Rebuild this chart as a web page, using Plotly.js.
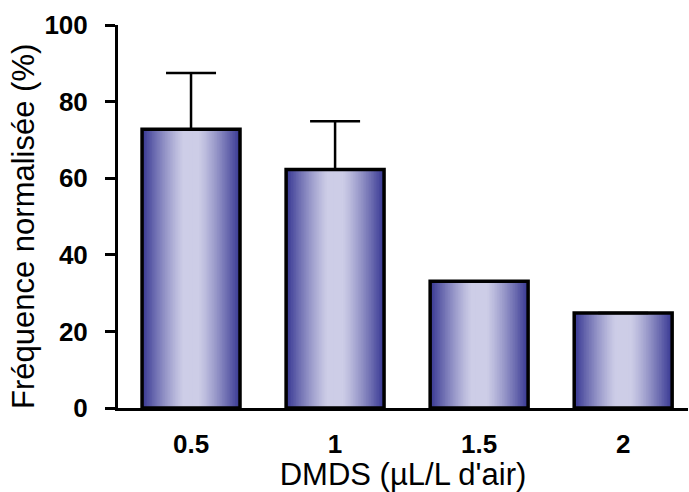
<!DOCTYPE html>
<html>
<head>
<meta charset="utf-8">
<script src="https://cdn.plot.ly/plotly-3.0.1.min.js"></script>
<style>html,body{margin:0;padding:0;background:#fff;}#chart{width:689px;height:492px;}</style>
</head>
<body>
<div id="chart"></div>
<script>
// Data
const categories = ['0.5', '1', '1.5', '2'];
const frequence = [72.8, 62.3, 33.1, 24.8];
const errorPlus = [14.7, 12.6, null, null];
const yTicks = [0, 20, 40, 60, 80, 100];
const xTitle = "DMDS (µL/L d'air)";
const yTitle = 'Fréquence normalisée (%)';

// Style
const FONT = 'Liberation Sans, Arial, sans-serif';
const BAR_WIDTH = 0.68;
const LAYERS = 30;
const light = [205, 205, 231];
const dark = [54, 54, 146];
function shade(t) {
  // t: 0 at bar centre, 1 at bar edge
  let s = t <= 0.15 ? 0 : Math.pow((t - 0.15) / 0.85, 1.2);
  const c = light.map((v, i) => Math.round(v + (dark[i] - v) * s));
  return 'rgb(' + c.join(',') + ')';
}

const traces = [];
for (let k = 0; k < LAYERS; k++) {
  const frac = 1 - k / LAYERS;
  const tMid = 1 - (k + 0.5) / LAYERS;
  traces.push({
    type: 'bar', x: categories, y: frequence,
    width: BAR_WIDTH * frac,
    marker: { color: shade(tMid), line: { width: 0 } },
    hoverinfo: 'skip', showlegend: false
  });
}
traces.push({
  type: 'bar', x: categories, y: frequence, width: BAR_WIDTH,
  marker: { color: 'rgba(0,0,0,0)', line: { color: '#000', width: 3.5 } },
  error_y: { type: 'data', symmetric: false, array: errorPlus,
             arrayminus: [0, 0, 0, 0], color: '#000', thickness: 2.5, width: 25 },
  showlegend: false
});

const layout = {
  width: 689, height: 492,
  margin: { l: 118, r: 1, t: 25, b: 84 },
  paper_bgcolor: '#fff', plot_bgcolor: '#fff',
  barmode: 'overlay',
  showlegend: false,
  font: { family: FONT, color: '#000' },
  xaxis: {
    type: 'category', categoryorder: 'array', categoryarray: categories,
    range: [-0.507, 3.45],
    showline: true, linewidth: 3, linecolor: '#000',
    ticks: '', showgrid: false, zeroline: false,
    tickfont: { family: FONT, size: 26, color: '#000', weight: 'bold' },
    ticklabelstandoff: 11,
    title: { text: xTitle, font: { family: FONT, size: 31, color: '#000' }, standoff: 6 }
  },
  yaxis: {
    range: [0, 100], tickvals: yTicks, ticktext: yTicks.map(String),
    showline: true, linewidth: 3, linecolor: '#000',
    ticks: 'outside', ticklen: 10, tickwidth: 3, tickcolor: '#000',
    showgrid: false, zeroline: false,
    tickfont: { family: FONT, size: 26, color: '#000', weight: 'bold' },
    ticklabelstandoff: 12
  },
  annotations: [{
    text: yTitle, xref: 'paper', yref: 'paper', x: 0, y: 0.4726,
    xanchor: 'center', yanchor: 'middle', xshift: -94, textangle: -90,
    showarrow: false, font: { family: FONT, size: 31, color: '#000' }
  }]
};

Plotly.newPlot('chart', traces, layout, { displayModeBar: false, staticPlot: true });
</script>
</body>
</html>
